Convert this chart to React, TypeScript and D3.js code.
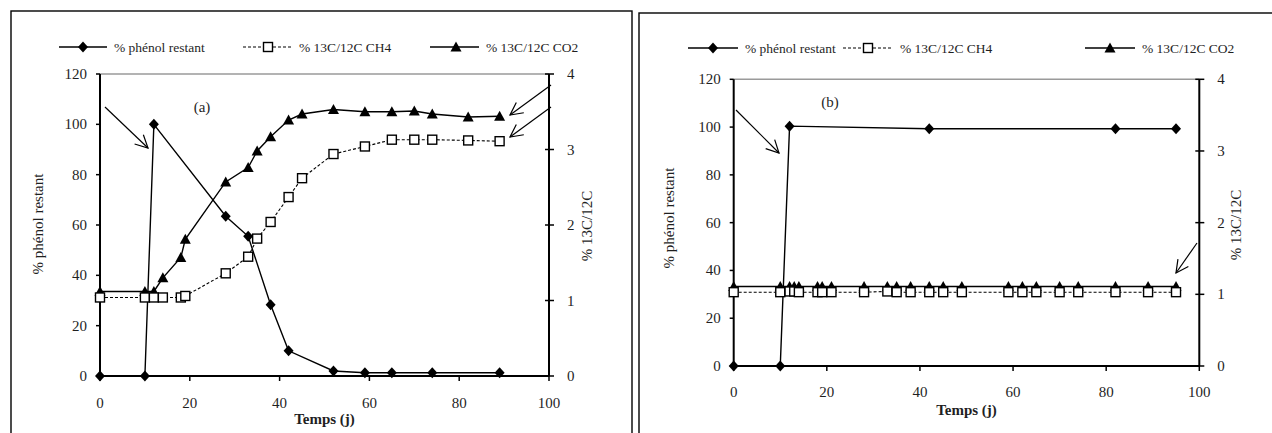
import React from "react";
import * as d3 from "d3";

// ---------- Data ----------
const xTicks = [0, 20, 40, 60, 80, 100];
const yLeftTicks = [0, 20, 40, 60, 80, 100, 120];
const yRightTicks = [0, 1, 2, 3, 4];
const legendLabels = ["% phénol restant", "% 13C/12C CH4", "% 13C/12C CO2"];

// Panel (a)
const daysA_phenol = [0, 10, 12, 28, 33, 38, 42, 52, 59, 65, 74, 89];
const phenolA = [0, 0, 100, 63.5, 55.5, 28.3, 10, 2, 1.3, 1.3, 1.3, 1.3];
const daysA_iso = [0, 10, 12, 14, 18, 19, 28, 33, 35, 38, 42, 45, 52, 59, 65, 70, 74, 82, 89];
const ch4A = [1.04, 1.04, 1.04, 1.04, 1.04, 1.06, 1.36, 1.58, 1.82, 2.04, 2.37, 2.62, 2.94, 3.04, 3.13, 3.13, 3.13, 3.12, 3.11];
const co2A = [1.12, 1.12, 1.12, 1.3, 1.57, 1.81, 2.57, 2.76, 2.98, 3.17, 3.39, 3.47, 3.53, 3.5, 3.5, 3.51, 3.47, 3.43, 3.44];

// Panel (b)
const daysB_phenol = [0, 10, 12, 42, 82, 95];
const phenolB = [0, 0, 100.4, 99.3, 99.3, 99.3];
const daysB_iso = [0, 10, 12, 13, 14, 18, 19, 21, 28, 33, 35, 38, 42, 45, 49, 59, 62, 65, 70, 74, 82, 89, 95];
const ch4B = [1.03, 1.03, 1.04, 1.04, 1.03, 1.03, 1.03, 1.03, 1.03, 1.04, 1.03, 1.03, 1.03, 1.03, 1.03, 1.03, 1.03, 1.03, 1.03, 1.03, 1.03, 1.03, 1.03];
const co2B = [1.11, 1.11, 1.11, 1.11, 1.11, 1.11, 1.11, 1.11, 1.11, 1.11, 1.11, 1.11, 1.11, 1.11, 1.11, 1.11, 1.11, 1.11, 1.11, 1.11, 1.11, 1.11, 1.11];

const FONT = "'Liberation Serif', 'DejaVu Serif', serif";
const TXT = "#1f1f1f";

type Arrow = { from: [number, number]; to: [number, number] };

type PanelCfg = {
  box: { x: number; y: number; w: number; h: number };
  plot: { x0: number; x1: number; yTop: number; yBot: number };
  legendY: number;
  legend: { l0: number; l1: number; m: number; t: number }[];
  label: string;
  labelPos: [number, number];
  xLabelY: number;
  titleY: number;
  leftTitleX: number;
  leftTitleY: number;
  rightTitleX: number;
  rightTitleY: number;
  phenolDays: number[];
  phenol: number[];
  isoDays: number[];
  ch4: number[];
  co2: number[];
  arrows: Arrow[];
};

const diamondPath = (cx: number, cy: number) =>
  `M${cx},${cy - 5.5}L${cx + 5},${cy}L${cx},${cy + 5.5}L${cx - 5},${cy}Z`;
const trianglePath = (cx: number, cy: number) =>
  `M${cx},${cy - 5.5}L${cx + 5.5},${cy + 4.5}L${cx - 5.5},${cy + 4.5}Z`;

function Diamond({ x, y }: { x: number; y: number }) {
  return <path d={diamondPath(x, y)} fill="#000" />;
}
function Square({ x, y }: { x: number; y: number }) {
  return <rect x={x - 4.5} y={y - 4.5} width={9} height={9} fill="#fff" stroke="#000" strokeWidth={1.4} />;
}
function Triangle({ x, y }: { x: number; y: number }) {
  return <path d={trianglePath(x, y)} fill="#000" />;
}

function ArrowMark({ a }: { a: Arrow }) {
  const [x1, y1] = a.from;
  const [x2, y2] = a.to;
  const ang = Math.atan2(y2 - y1, x2 - x1);
  const L = 14;
  const spread = (27 * Math.PI) / 180;
  const h1: [number, number] = [x2 - L * Math.cos(ang - spread), y2 - L * Math.sin(ang - spread)];
  const h2: [number, number] = [x2 - L * Math.cos(ang + spread), y2 - L * Math.sin(ang + spread)];
  return (
    <g stroke="#000" strokeWidth={1.2} fill="none">
      <line x1={x1} y1={y1} x2={x2} y2={y2} />
      <polyline points={`${h1[0]},${h1[1]} ${x2},${y2} ${h2[0]},${h2[1]}`} />
    </g>
  );
}

function T(props: {
  x?: number;
  y?: number;
  size: number;
  bold?: boolean;
  anchor?: string;
  transform?: string;
  children: React.ReactNode;
}) {
  return (
    <text
      x={props.x}
      y={props.y}
      transform={props.transform}
      textAnchor={props.anchor || "start"}
      dominantBaseline="central"
      fontFamily={FONT}
      fontSize={props.size}
      fontWeight={props.bold ? "bold" : "normal"}
      fill={TXT}
      style={{ fontFamily: FONT }}
    >
      {props.children}
    </text>
  );
}

function Panel({ c }: { c: PanelCfg }) {
  const { x0, x1, yTop, yBot } = c.plot;
  const x = d3.scaleLinear().domain([0, 100]).range([x0, x1]);
  const yL = d3.scaleLinear().domain([0, 120]).range([yBot, yTop]);
  const yR = d3.scaleLinear().domain([0, 4]).range([yBot, yTop]);

  const phenolPts = c.phenolDays.map((d, i) => [x(d), yL(c.phenol[i])] as [number, number]);
  const ch4Pts = c.isoDays.map((d, i) => [x(d), yR(c.ch4[i])] as [number, number]);
  const co2Pts = c.isoDays.map((d, i) => [x(d), yR(c.co2[i])] as [number, number]);
  const line = d3.line<[number, number]>();

  return (
    <g>
      <rect x={c.box.x} y={c.box.y} width={c.box.w} height={c.box.h} fill="none" stroke="#000" strokeWidth={1.4} />

      {c.legend.map((lg, i) => (
        <g key={i}>
          <line
            x1={lg.l0}
            x2={lg.l1}
            y1={c.legendY}
            y2={c.legendY}
            stroke="#000"
            strokeWidth={i === 1 ? 1.1 : 1.4}
            strokeDasharray={i === 1 ? "3,2" : undefined}
          />
          {i === 0 && <Diamond x={lg.m} y={c.legendY} />}
          {i === 1 && <Square x={lg.m} y={c.legendY} />}
          {i === 2 && <Triangle x={lg.m} y={c.legendY} />}
          <T x={lg.t} y={c.legendY} size={13.5}>
            {legendLabels[i]}
          </T>
        </g>
      ))}

      <line x1={x0} x2={x1} y1={yTop} y2={yTop} stroke="#9a9a9a" strokeWidth={1.5} />

      <line x1={x0} x2={x0} y1={yTop} y2={yBot} stroke="#000" strokeWidth={2} />
      <line x1={x1} x2={x1} y1={yTop} y2={yBot} stroke="#000" strokeWidth={2} />
      <line x1={x0} x2={x1} y1={yBot} y2={yBot} stroke="#000" strokeWidth={2} />

      {yLeftTicks.map((t) => (
        <g key={"l" + t}>
          <line x1={x0 - 4} x2={x0} y1={yL(t)} y2={yL(t)} stroke="#000" strokeWidth={1.5} />
          <T x={x0 - 13} y={yL(t)} size={15} anchor="end">
            {t}
          </T>
        </g>
      ))}
      {yRightTicks.map((t) => (
        <g key={"r" + t}>
          <line x1={x1 - 4} x2={x1 + 5} y1={yR(t)} y2={yR(t)} stroke="#000" strokeWidth={1.5} />
          <T x={x1 + 18} y={yR(t)} size={15}>
            {t}
          </T>
        </g>
      ))}
      {xTicks.map((t) => (
        <g key={"x" + t}>
          <line x1={x(t)} x2={x(t)} y1={yBot} y2={yBot + 5} stroke="#000" strokeWidth={1.5} />
          <T x={x(t)} y={c.xLabelY} size={15} anchor="middle">
            {t}
          </T>
        </g>
      ))}

      <T x={(x0 + x1) / 2} y={c.titleY} size={15} bold anchor="middle">
        Temps (j)
      </T>
      <T transform={`translate(${c.leftTitleX},${c.leftTitleY}) rotate(-90)`} size={15} anchor="middle">
        % phénol restant
      </T>
      <T transform={`translate(${c.rightTitleX},${c.rightTitleY}) rotate(-90)`} size={15} anchor="middle">
        % 13C/12C
      </T>
      <T x={c.labelPos[0]} y={c.labelPos[1]} size={15} anchor="middle">
        {c.label}
      </T>

      <path d={line(phenolPts) || ""} fill="none" stroke="#000" strokeWidth={1.4} />
      <path d={line(co2Pts) || ""} fill="none" stroke="#000" strokeWidth={1.4} />
      <path d={line(ch4Pts) || ""} fill="none" stroke="#000" strokeWidth={1.1} strokeDasharray="3,2" />
      {phenolPts.map((p, i) => (
        <Diamond key={"pd" + i} x={p[0]} y={p[1]} />
      ))}
      {co2Pts.map((p, i) => (
        <Triangle key={"ct" + i} x={p[0]} y={p[1]} />
      ))}
      {ch4Pts.map((p, i) => (
        <Square key={"cs" + i} x={p[0]} y={p[1]} />
      ))}

      {c.arrows.map((a, i) => (
        <ArrowMark key={"a" + i} a={a} />
      ))}
    </g>
  );
}

const panelA: PanelCfg = {
  box: { x: 11, y: 11, w: 621, h: 440 },
  plot: { x0: 100, x1: 549, yTop: 74, yBot: 376 },
  legendY: 47,
  legend: [
    { l0: 59, l1: 107, m: 83, t: 114 },
    { l0: 243, l1: 293, m: 268, t: 299 },
    { l0: 430, l1: 479, m: 456, t: 486 },
  ],
  label: "(a)",
  labelPos: [202, 107],
  xLabelY: 403,
  titleY: 419,
  leftTitleX: 38,
  leftTitleY: 224,
  rightTitleX: 587,
  rightTitleY: 226,
  phenolDays: daysA_phenol,
  phenol: phenolA,
  isoDays: daysA_iso,
  ch4: ch4A,
  co2: co2A,
  arrows: [
    { from: [105, 107], to: [148, 148] },
    { from: [551, 85], to: [510, 115] },
    { from: [551, 107], to: [510, 137] },
  ],
};

const panelB: PanelCfg = {
  box: { x: 639, y: 13, w: 640, h: 440 },
  plot: { x0: 733.7, x1: 1199.3, yTop: 79.3, yBot: 366 },
  legendY: 48,
  legend: [
    { l0: 688, l1: 738, m: 713, t: 745 },
    { l0: 843, l1: 893, m: 868, t: 900 },
    { l0: 1085, l1: 1135, m: 1110, t: 1142 },
  ],
  label: "(b)",
  labelPos: [830, 102],
  xLabelY: 392,
  titleY: 410,
  leftTitleX: 669,
  leftTitleY: 218,
  rightTitleX: 1236,
  rightTitleY: 225,
  phenolDays: daysB_phenol,
  phenol: phenolB,
  isoDays: daysB_iso,
  ch4: ch4B,
  co2: co2B,
  arrows: [
    { from: [736, 110], to: [779, 153] },
    { from: [1197, 243], to: [1176, 273] },
  ],
};

export default function App() {
  return (
    <svg
      width={1272}
      height={433}
      viewBox="0 0 1272 433"
      style={{ position: "absolute", left: 0, top: 0, background: "#fff" }}
    >
      <rect x={0} y={0} width={1272} height={433} fill="#fff" />
      <Panel c={panelA} />
      <Panel c={panelB} />
    </svg>
  );
}
